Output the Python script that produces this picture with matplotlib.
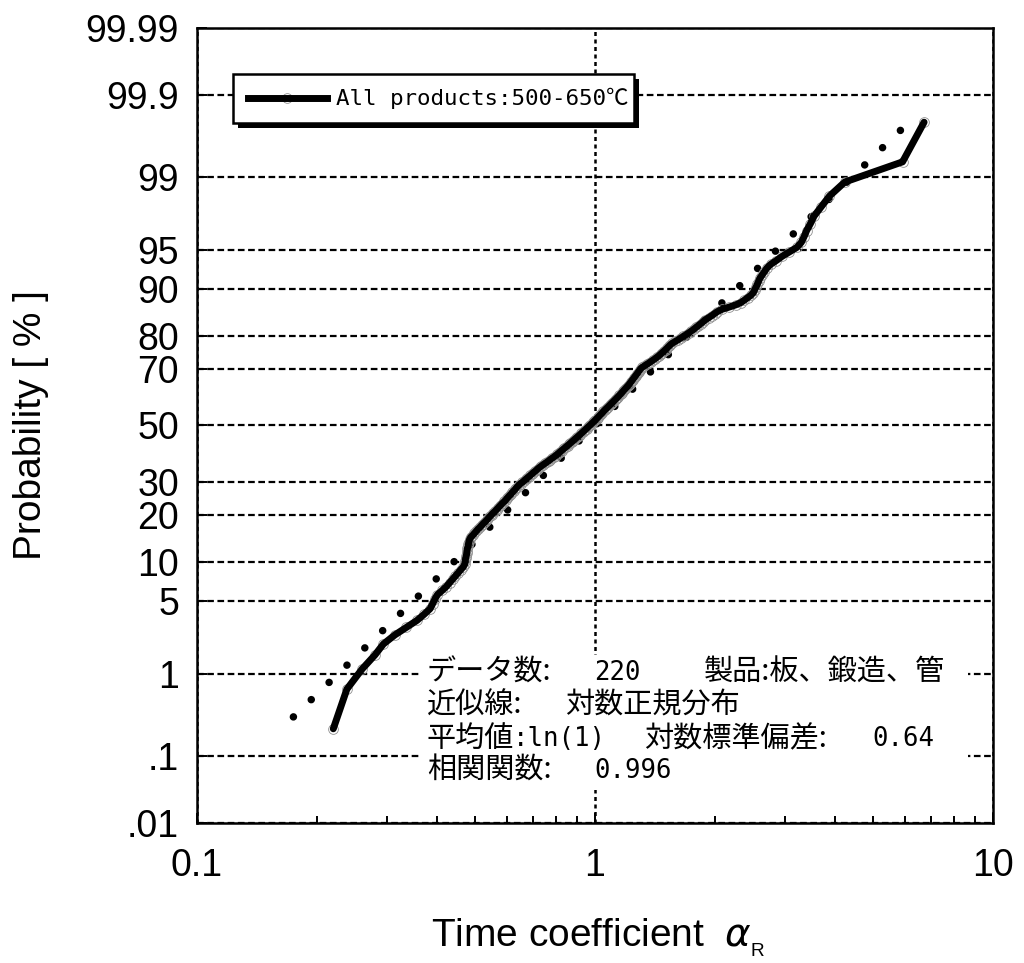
import numpy as np
import matplotlib
matplotlib.use("Agg")
import matplotlib.pyplot as plt
from matplotlib.lines import Line2D
from matplotlib.patches import Rectangle
from matplotlib.ticker import LogLocator, NullLocator, NullFormatter
from statistics import NormalDist

# Sorted time coefficients of all products (500-650 degC), n = 220
alpha_r = [
    0.220, 0.238, 0.260, 0.280, 0.294, 0.314, 0.336, 0.357, 0.372, 0.385,
    0.391, 0.396, 0.402, 0.413, 0.423, 0.431, 0.439, 0.446, 0.453, 0.460,
    0.467, 0.471, 0.472, 0.473, 0.475, 0.476, 0.477, 0.478, 0.480, 0.481,
    0.482, 0.484, 0.487, 0.493, 0.498, 0.503, 0.508, 0.514, 0.519, 0.524,
    0.530, 0.535, 0.540, 0.545, 0.550, 0.555, 0.561, 0.566, 0.571, 0.576,
    0.581, 0.586, 0.592, 0.597, 0.601, 0.606, 0.611, 0.616, 0.620, 0.625,
    0.630, 0.634, 0.639, 0.644, 0.650, 0.657, 0.663, 0.669, 0.675, 0.682,
    0.688, 0.694, 0.700, 0.707, 0.713, 0.719, 0.726, 0.733, 0.741, 0.749,
    0.757, 0.765, 0.772, 0.780, 0.788, 0.796, 0.803, 0.810, 0.817, 0.824,
    0.831, 0.838, 0.845, 0.853, 0.860, 0.867, 0.874, 0.881, 0.888, 0.895,
    0.902, 0.910, 0.917, 0.924, 0.931, 0.938, 0.946, 0.953, 0.960, 0.967,
    0.974, 0.981, 0.988, 0.995, 1.002, 1.009, 1.016, 1.023, 1.030, 1.037,
    1.044, 1.050, 1.057, 1.065, 1.073, 1.081, 1.088, 1.096, 1.104, 1.112,
    1.120, 1.128, 1.136, 1.144, 1.152, 1.160, 1.167, 1.175, 1.183, 1.191,
    1.199, 1.207, 1.215, 1.222, 1.229, 1.236, 1.244, 1.251, 1.258, 1.265,
    1.273, 1.280, 1.287, 1.294, 1.302, 1.314, 1.331, 1.348, 1.365, 1.382,
    1.399, 1.416, 1.432, 1.448, 1.462, 1.476, 1.491, 1.505, 1.519, 1.533,
    1.547, 1.565, 1.591, 1.617, 1.642, 1.668, 1.694, 1.720, 1.745, 1.770,
    1.794, 1.819, 1.844, 1.869, 1.894, 1.929, 1.963, 1.997, 2.031, 2.084,
    2.171, 2.257, 2.327, 2.373, 2.419, 2.466, 2.500, 2.519, 2.539, 2.558,
    2.577, 2.596, 2.630, 2.666, 2.702, 2.761, 2.855, 2.950, 3.078, 3.218,
    3.301, 3.352, 3.402, 3.476, 3.553, 3.699, 3.883, 4.243, 5.926, 6.712,
]

# Log-normal fit: mean ln(1), log standard deviation 0.64
fit_mean_ln = np.log(1.0)
fit_sigma = 0.64

prob_ticks = [0.01, 0.1, 1, 5, 10, 20, 30, 50, 70, 80, 90, 95, 99, 99.9, 99.99]
prob_labels = [".01", ".1", "1", "5", "10", "20", "30", "50", "70", "80",
               "90", "95", "99", "99.9", "99.99"]
x_ticks = [0.1, 1, 10]
x_labels = ["0.1", "1", "10"]

series_label = "All products:500-650℃"
info_rows = [
    [(427, "データ数:", "cjk"), (594, "220", "mono"), (704, "製品:板、鍛造、管", "cjk")],
    [(427, "近似線:", "cjk"), (565, "対数正規分布", "cjk")],
    [(427, "平均値", "cjk"), (513, ":ln(1)", "mono"), (644, "対数標準偏差:", "cjk"),
     (872, "0.64", "mono")],
    [(427, "相関関数:", "cjk"), (594, "0.996", "mono")],
]
info_row_y = [673, 706, 739, 771]

W, H = 1024, 963
SANS = ["Liberation Sans", "DejaVu Sans"]
CJK = ["Noto Sans CJK JP", "DejaVu Sans"]
MONO = ["DejaVu Sans Mono", "Noto Sans CJK JP"]

nd = NormalDist()
_ppf = np.vectorize(nd.inv_cdf, otypes=[float])
_cdf = np.vectorize(nd.cdf, otypes=[float])


def prob_forward(p):
    p = np.clip(np.asarray(p, dtype=float) / 100.0, 1e-12, 1 - 1e-12)
    return _ppf(p)


def prob_inverse(z):
    return _cdf(np.asarray(z, dtype=float)) * 100.0


def fx(x):
    return x / W


def fy(y):
    return 1 - y / H


n = len(alpha_r)
plot_pos = (np.arange(1, n + 1) - 0.5) / n * 100.0

fig = plt.figure(figsize=(W / 100, H / 100), dpi=100)
ax_l, ax_r, ax_t, ax_b = 197, 993, 28, 823
ax = fig.add_axes([fx(ax_l), fy(ax_b), (ax_r - ax_l) / W, (ax_b - ax_t) / H])

ax.set_xscale("log")
ax.set_yscale("function", functions=(prob_forward, prob_inverse))
ax.set_xlim(0.1, 10)
ax.set_ylim(0.01, 99.99)

# fitted log-normal line (large round dots)
fit_p = np.array([0.32, plot_pos[-1]])
fit_x = np.exp(fit_mean_ln + fit_sigma * prob_forward(fit_p))
ax.plot(fit_x, fit_p, color="k", lw=5.4, ls=(0, (0.01, 3.3)),
        dash_capstyle="round", zorder=2)

# open circles sit just under the thick data line
ax.plot(alpha_r, plot_pos, ls="none", marker="o", ms=7, mfc="none",
        mec="#909090", mew=0.6, zorder=2.5)
ax.plot(alpha_r, plot_pos, color="k", lw=5.0, solid_joinstyle="round",
        solid_capstyle="round", zorder=3)

ax.set_xticks(x_ticks, x_labels)
ax.xaxis.set_minor_locator(LogLocator(base=10, subs=np.arange(2, 10)))
ax.xaxis.set_minor_formatter(NullFormatter())
ax.set_yticks(prob_ticks, prob_labels)
ax.yaxis.set_minor_locator(NullLocator())

ax.set_axisbelow(True)
ax.yaxis.grid(True, color="k", lw=1.6, ls=(0, (3, 1.6)))
ax.xaxis.grid(True, color="k", lw=1.8, ls=(0, (1.6, 1.4)))

ax.tick_params(which="both", direction="in", color="k", width=1.4)
ax.tick_params(which="major", length=7)
ax.tick_params(which="minor", length=5)
ax.tick_params(axis="x", pad=18, labelsize=27)
ax.tick_params(axis="y", pad=13, labelsize=27)
for lab in ax.get_xticklabels() + ax.get_yticklabels():
    lab.set_family(SANS)
for s in ax.spines.values():
    s.set_linewidth(1.8)
    s.set_color("k")

fig.text(fx(31), fy(425), "Probability [ % ]", rotation=90, ha="center",
         va="center", fontsize=28, family=SANS)
fig.text(fx(598), fy(938), r"Time coefficient  $\alpha_{\mathregular{_{R}}}$",
         ha="center", va="center", fontsize=28, family=SANS)

# legend box with drop shadow
fig.add_artist(Rectangle((fx(238), fy(128)), (634 - 233) / W, (123 - 74) / H,
                         transform=fig.transFigure, facecolor="k",
                         edgecolor="none", zorder=5))
fig.add_artist(Rectangle((fx(233), fy(123)), (634 - 233) / W, (123 - 74) / H,
                         transform=fig.transFigure, facecolor="white",
                         edgecolor="k", lw=1.8, zorder=6))
fig.add_artist(Line2D([fx(287)], [fy(98)], ls="none", marker="o", ms=7,
                      mfc="none", mec="#909090", mew=0.6,
                      transform=fig.transFigure, zorder=7))
fig.add_artist(Line2D([fx(248), fx(327)], [fy(98), fy(98)], color="k", lw=5.0,
                      transform=fig.transFigure, zorder=8))
fig.text(fx(336), fy(98), series_label, ha="left", va="center",
         fontsize=16.2, family=MONO, zorder=8)

# statistics block on a white panel
fig.add_artist(Rectangle((fx(420), fy(790)), (968 - 420) / W, (790 - 655) / H,
                         transform=fig.transFigure, facecolor="white",
                         edgecolor="none", zorder=5))
for row, yc in zip(info_rows, info_row_y):
    for xl, txt, kind in row:
        if kind == "cjk":
            fig.text(fx(xl), fy(yc), txt, ha="left", va="center",
                     fontsize=21, family=CJK, zorder=7)
        else:
            fig.text(fx(xl), fy(yc), txt, ha="left", va="center",
                     fontsize=18.5, family=MONO, zorder=7)

fig.savefig("out.png", dpi=100, facecolor="white")
